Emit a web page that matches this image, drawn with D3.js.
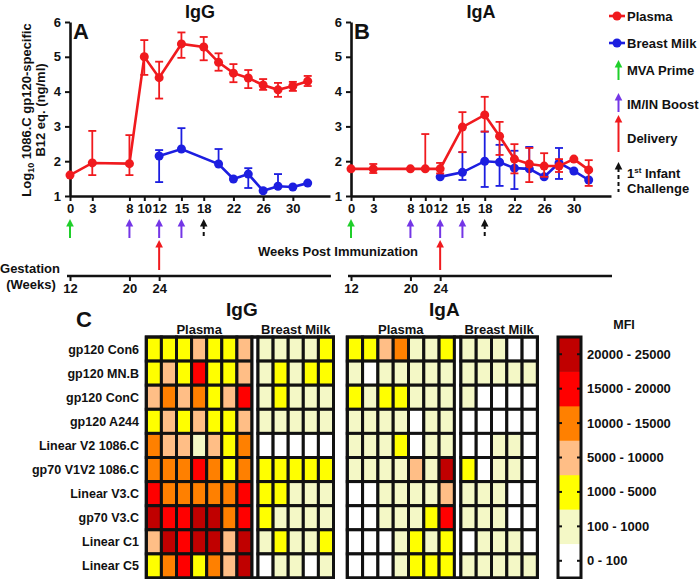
<!DOCTYPE html>
<html><head><meta charset="utf-8">
<script src="https://cdn.jsdelivr.net/npm/d3@7"></script>
<style>
body{margin:0;background:#fff}
text{font-family:"Liberation Sans",Arial,sans-serif;font-weight:bold;fill:#111}
</style>
</head><body><svg id="c" width="700" height="579"></svg>
<script>
// ---------- data ----------
const weekTicks = [0,3,8,10,12,15,18,22,26,30];
const yTicks = [1,2,3,4,5,6];
const gestTicks = [12,20,24];
const primeWeeks = [0];
const boostWeeks = [8,12,15];
const deliveryWeeks = [12];
const challengeWeeks = [18];

// IgG (panel A)
const iggPlasmaWeeks = [0,3,8,10,12,15,18,20,22,24,26,28,30,32];
const iggPlasmaMean  = [1.6,1.95,1.93,5.0,4.4,5.37,5.28,4.84,4.53,4.39,4.19,4.05,4.16,4.3];
const iggPlasmaHi    = [null,2.87,2.75,5.48,4.86,5.7,5.57,5.1,4.79,4.62,4.36,4.25,4.28,4.45];
const iggPlasmaLo    = [null,1.6,1.6,4.48,3.8,4.97,4.9,4.6,4.27,4.1,4.05,3.85,4.02,4.16];
const iggMilkWeeks = [12,15,20,22,24,26,28,30,32];
const iggMilkMean  = [2.15,2.35,1.92,1.49,1.63,1.15,1.28,1.26,1.37];
const iggMilkHi    = [2.32,2.95,2.35,null,1.8,null,1.63,null,null];
const iggMilkLo    = [1.4,null,null,null,1.23,null,null,null,null];

// IgA (panel B)
const igaPlasmaWeeks = [0,3,8,10,12,15,18,20,22,24,26,28,30,32];
const igaPlasmaMean  = [1.78,1.78,1.78,1.78,1.78,2.98,3.33,2.72,2.06,1.92,1.86,1.86,2.06,1.75];
const igaPlasmaHi    = [null,1.92,null,2.78,1.95,3.41,3.85,3.13,2.49,2.38,2.23,2.06,null,2.03];
const igaPlasmaLo    = [null,1.66,null,null,1.65,2.26,2.85,2.18,1.65,1.4,1.55,1.69,null,1.29];
const igaMilkWeeks = [12,15,18,20,22,24,26,28,30,32];
const igaMilkMean  = [1.55,1.68,2.0,1.97,1.8,1.78,1.55,1.95,1.72,1.46];
const igaMilkHi    = [null,2.26,2.85,2.47,2.3,2.41,null,2.38,null,null];
const igaMilkLo    = [null,1.46,1.26,1.29,1.2,null,null,1.49,null,null];

// Heatmap (panel C): MFI band index 0..6
const antigens = ["gp120 Con6","gp120 MN.B","gp120 ConC","gp120 A244","Linear V2 1086.C","gp70 V1V2 1086.C","Linear V3.C","gp70 V3.C","Linear C1","Linear C5"];
const mfiBands = ["0 - 100","100 - 1000","1000 - 5000","5000 - 10000","10000 - 15000","15000 - 20000","20000 - 25000"];
const iggPlasmaHeat = [
 [2,2,2,3,2,2,3],[2,3,2,5,2,2,3],[3,4,3,4,2,3,5],[2,3,2,3,2,2,3],[4,3,3,1,3,2,4],
 [4,4,4,5,4,2,4],[5,4,4,4,4,4,5],[6,5,5,6,6,4,5],[3,6,5,6,6,3,6],[2,4,5,2,4,3,6]];
const iggMilkHeat = [
 [1,1,1,1,2],[1,2,1,2,2],[1,2,1,1,1],[1,1,1,1,1],[0,0,0,0,0],
 [2,2,2,2,2],[2,2,1,1,1],[2,1,1,1,1],[1,2,1,1,2],[0,1,1,0,1]];
const igaPlasmaHeat = [
 [2,2,3,4,1,1,2],[1,0,1,1,1,1,1],[2,1,2,2,1,1,1],[1,1,1,1,0,1,1],[1,1,1,2,0,1,1],
 [1,1,1,1,3,1,6],[0,0,1,1,1,1,3],[0,0,1,1,1,2,5],[0,0,0,1,2,1,2],[0,0,0,1,2,2,2]];
const igaMilkHeat = [
 [1,1,1,0,0],[1,1,1,1,1],[1,0,0,0,0],[0,0,0,0,0],[0,0,1,1,0],
 [2,0,1,1,0],[1,1,1,0,0],[1,1,1,0,0],[0,1,1,1,0],[1,1,1,1,1]];

// ---------- styles ----------
const RED = "#f01a1e", BLUE = "#1c1ee0", GREEN = "#1fcf2a", PURPLE = "#7436e6", BLACK = "#111";
const heatColor = d3.scaleOrdinal([0,1,2,3,4,5,6],
  ["#ffffff","#f4f8c6","#ffff00","#ffbe86","#ff8000","#ff0000","#c00000"]);

const svg = d3.select("#c");

// ---------- line panels ----------
const y = d3.scaleLinear([1,6],[196,22]);

function arrow(g, x, yTop, yBot, color, dashed) {
  g.append("line").attr("x1",x).attr("x2",x).attr("y1",yTop+6).attr("y2",yBot)
    .attr("stroke",color).attr("stroke-width",2).attr("stroke-dasharray",dashed?"4,3":null);
  g.append("path").attr("d",`M${x-3.8},${yTop+7.5}L${x},${yTop}L${x+3.8},${yTop+7.5}Z`).attr("fill",color);
}

function styleAxis(ax) {
  ax.select(".domain").attr("stroke",BLACK).attr("stroke-width",2.6);
  ax.selectAll(".tick line").attr("stroke",BLACK).attr("stroke-width",2);
  ax.selectAll(".tick text").attr("font-size",13).attr("font-family","Liberation Sans, Arial, sans-serif").attr("font-weight","bold").attr("fill",BLACK);
}

function series(g, x, weeks, mean, hi, lo, color) {
  const pts = weeks.map((w,i)=>({w, m:mean[i], h:hi[i], l:lo[i]}));
  g.append("path").datum(pts)
    .attr("d", d3.line().x(d=>x(d.w)).y(d=>y(d.m)))
    .attr("fill","none").attr("stroke",color).attr("stroke-width",2.6);
  const eb = g.append("g").attr("stroke",color).attr("stroke-width",1.8);
  pts.forEach(d=>{
    const top = d.h!=null ? d.h : d.m, bot = d.l!=null ? d.l : d.m;
    if (d.h==null && d.l==null) return;
    eb.append("line").attr("x1",x(d.w)).attr("x2",x(d.w)).attr("y1",y(top)).attr("y2",y(bot));
    if (d.h!=null) eb.append("line").attr("x1",x(d.w)-4).attr("x2",x(d.w)+4).attr("y1",y(d.h)).attr("y2",y(d.h));
    if (d.l!=null) eb.append("line").attr("x1",x(d.w)-4).attr("x2",x(d.w)+4).attr("y1",y(d.l)).attr("y2",y(d.l));
  });
  g.append("g").selectAll("circle").data(pts).join("circle")
    .attr("cx",d=>x(d.w)).attr("cy",d=>y(d.m)).attr("r",4.5).attr("fill",color);
}

function linePanel(x0, title, letter, data) {
  const x = d3.scaleLinear([0,35],[x0, x0+260]);
  const g = svg.append("g");
  const ax = g.append("g").attr("transform","translate(0,196)")
    .call(d3.axisBottom(x).tickValues(weekTicks).tickFormat(d3.format("d")).tickSize(5).tickPadding(3).tickSizeOuter(0));
  styleAxis(ax);
  const ay = g.append("g").attr("transform",`translate(${x0},0)`)
    .call(d3.axisLeft(y).tickValues(yTicks).tickFormat(d3.format("d")).tickSize(5).tickPadding(4).tickSizeOuter(0));
  styleAxis(ay);
  g.append("text").attr("x",x(17.5)).attr("y",18).attr("text-anchor","middle").attr("font-size",18).text(title);
  g.append("text").attr("x",x0+3).attr("y",39).attr("font-size",22).text(letter);
  data.forEach(s=>series(g, x, ...s));
  // event arrows
  primeWeeks.forEach(w=>arrow(g, x(w), 219, 238, GREEN, false));
  boostWeeks.forEach(w=>arrow(g, x(w), 219, 238, PURPLE, false));
  challengeWeeks.forEach(w=>arrow(g, x(w), 219, 238, BLACK, true));
  deliveryWeeks.forEach(w=>arrow(g, x(w), 240, 270, RED, false));
  // gestation axis
  const gx = d3.scaleLinear([12,47],[x0, x0+260]);
  const ag = g.append("g").attr("transform","translate(0,276)")
    .call(d3.axisBottom(gx).tickValues(gestTicks).tickFormat(d3.format("d")).tickSize(5).tickPadding(3).tickSizeOuter(0));
  styleAxis(ag);
  ag.select(".domain").attr("d",`M${x0-3},0H${x0+261}`);
}

linePanel(70, "IgG", "A", [
  [iggMilkWeeks, iggMilkMean, iggMilkHi, iggMilkLo, BLUE],
  [iggPlasmaWeeks, iggPlasmaMean, iggPlasmaHi, iggPlasmaLo, RED]]);
linePanel(351, "IgA", "B", [
  [igaMilkWeeks, igaMilkMean, igaMilkHi, igaMilkLo, BLUE],
  [igaPlasmaWeeks, igaPlasmaMean, igaPlasmaHi, igaPlasmaLo, RED]]);

// y axis title
const yt = svg.append("text").attr("transform","translate(31,110) rotate(-90)").attr("text-anchor","middle").attr("font-size",13);
yt.append("tspan").text("Log");
yt.append("tspan").attr("font-size",9).attr("dy",3).text("10");
yt.append("tspan").attr("dy",-3).text(" 1086.C gp120-specific");
svg.append("text").attr("transform","translate(45,110) rotate(-90)").attr("text-anchor","middle").attr("font-size",13).text("B12 eq. (ng/ml)");

svg.append("text").attr("x",338).attr("y",256).attr("text-anchor","middle").attr("font-size",13).text("Weeks Post Immunization");
svg.append("text").attr("x",30).attr("y",273).attr("text-anchor","middle").attr("font-size",13).text("Gestation");
svg.append("text").attr("x",31).attr("y",289).attr("text-anchor","middle").attr("font-size",13).text("(Weeks)");

// legend (top right)
const lg = svg.append("g");
[["Plasma",RED,16],["Breast Milk",BLUE,43]].forEach(([t,c,yy])=>{
  lg.append("line").attr("x1",609).attr("x2",625).attr("y1",yy).attr("y2",yy).attr("stroke",c).attr("stroke-width",2.6);
  lg.append("circle").attr("cx",617).attr("cy",yy).attr("r",4.5).attr("fill",c);
  lg.append("text").attr("x",627).attr("y",yy+5).attr("font-size",13).text(t);
});
arrow(lg, 618.5, 60, 80, GREEN, false);
lg.append("text").attr("x",627).attr("y",75).attr("font-size",13).text("MVA Prime");
arrow(lg, 618.5, 93, 112, PURPLE, false);
lg.append("text").attr("x",627).attr("y",109).attr("font-size",13).text("IM/IN Boost");
arrow(lg, 618.5, 115, 152, RED, false);
lg.append("text").attr("x",627).attr("y",143).attr("font-size",13).text("Delivery");
arrow(lg, 618.5, 162, 192, BLACK, true);
const ch = lg.append("text").attr("x",627).attr("y",178).attr("font-size",13);
ch.append("tspan").text("1");
ch.append("tspan").attr("font-size",8).attr("dy",-5).text("st");
ch.append("tspan").attr("dy",5).text(" Infant");
lg.append("text").attr("x",627).attr("y",193).attr("font-size",13).text("Challenge");

// ---------- heatmaps ----------
const rowY = d3.scaleBand(d3.range(antigens.length), [337, 578]);
const rh = rowY.bandwidth();

function heatGrid(g, data, x0, cw) {
  const ncol = data[0].length;
  const cx = d3.scaleBand(d3.range(ncol), [x0, x0 + ncol*cw]);
  data.forEach((row, r)=>{
    g.selectAll(null).data(row).join("rect")
      .attr("x",(d,i)=>cx(i)).attr("y",rowY(r)).attr("width",cw).attr("height",rh)
      .attr("fill",d=>heatColor(d)).attr("stroke",BLACK).attr("stroke-width",3);
  });
  return x0 + ncol*cw;
}

function heatPanel(title, plasma, milk, x0, cw, gap) {
  const g = svg.append("g");
  const pEnd = heatGrid(g, plasma, x0, cw);
  const mStart = pEnd + gap;
  g.append("rect").attr("x",pEnd).attr("y",337).attr("width",gap).attr("height",241)
    .attr("fill","#fff").attr("stroke",BLACK).attr("stroke-width",3);
  const mEnd = heatGrid(g, milk, mStart, cw);
  g.append("rect").attr("x",x0).attr("y",337).attr("width",mEnd-x0).attr("height",241)
    .attr("fill","none").attr("stroke",BLACK).attr("stroke-width",3);
  g.append("text").attr("x",(x0+pEnd)/2).attr("y",334).attr("text-anchor","middle").attr("font-size",13).text("Plasma");
  g.append("text").attr("x",(mStart+mEnd)/2).attr("y",334).attr("text-anchor","middle").attr("font-size",13).text("Breast Milk");
  g.append("text").attr("x",(x0+mEnd)/2 + 2).attr("y",316).attr("text-anchor","middle").attr("font-size",19).text(title);
}
heatPanel("IgG", iggPlasmaHeat, iggMilkHeat, 146.3, 15.1, 6);
heatPanel("IgA", igaPlasmaHeat, igaMilkHeat, 347.3, 15.3, 6.5);

svg.append("text").attr("x",76).attr("y",327).attr("font-size",22).text("C");

antigens.forEach((a,i)=>{
  svg.append("text").attr("x",139).attr("y",rowY(i)+rh/2+4.5).attr("text-anchor","end").attr("font-size",12.5).text(a);
});

// MFI legend
const bandY = d3.scaleBand(d3.range(mfiBands.length).reverse(), [337, 578]);
const mg = svg.append("g");
mg.selectAll("rect").data(d3.range(mfiBands.length)).join("rect")
  .attr("x",558).attr("y",d=>bandY(d)).attr("width",23).attr("height",bandY.bandwidth()+0.5)
  .attr("fill",d=>heatColor(d));
mg.append("rect").attr("x",558).attr("y",337).attr("width",23).attr("height",241)
  .attr("fill","none").attr("stroke",BLACK).attr("stroke-width",3);
mfiBands.forEach((t,i)=>{
  const yy = bandY(i)+bandY.bandwidth()/2;
  mg.append("line").attr("x1",558).attr("x2",562).attr("y1",yy).attr("y2",yy).attr("stroke",BLACK).attr("stroke-width",2);
  mg.append("line").attr("x1",577).attr("x2",581).attr("y1",yy).attr("y2",yy).attr("stroke",BLACK).attr("stroke-width",2);
  mg.append("text").attr("x",587).attr("y",yy+4.5).attr("font-size",13).text(t);
});
mg.append("text").attr("x",624).attr("y",329).attr("text-anchor","middle").attr("font-size",12.5).text("MFI");
</script>
</body></html>
